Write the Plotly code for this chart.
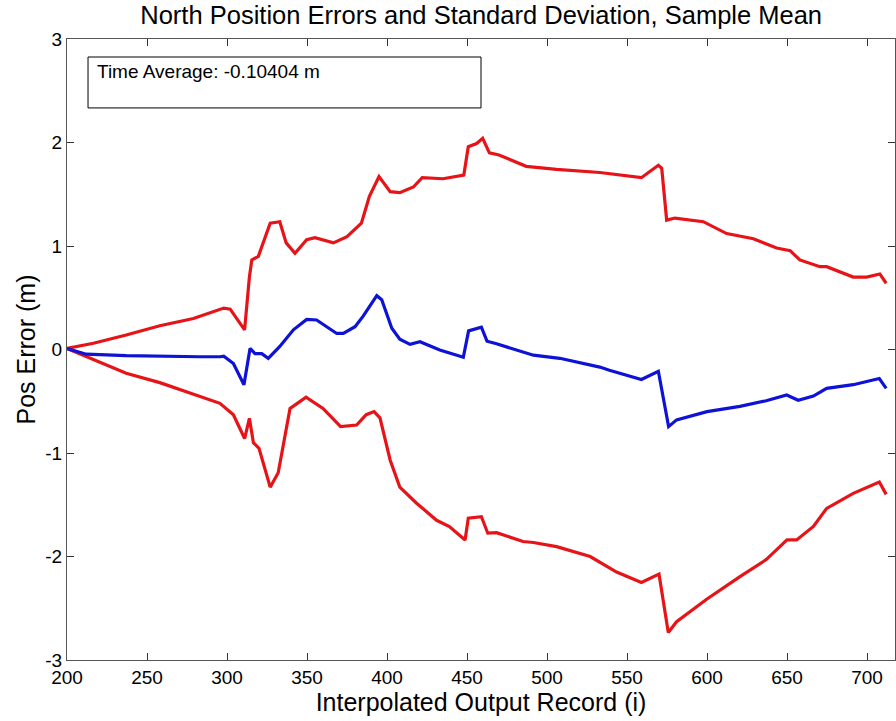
import plotly.graph_objects as go

# Upper bound (mean + std), red
x_upper = [200, 216.5, 237, 258, 279, 298, 302, 311, 314, 315.5, 319.6, 327, 333, 337, 342.5, 349.8,
           355, 366.5, 375, 384, 389, 395, 402, 408, 416.5, 422, 435, 448, 450.8, 456, 459.8, 464,
           470, 487, 506, 533, 559, 569.6, 571.7, 574.8, 580, 597.7, 612.3, 629, 643.5, 652, 658,
           670.6, 674.8, 691.4, 699.8, 708, 712]
y_upper = [0.01, 0.06, 0.14, 0.23, 0.30, 0.40, 0.39, 0.19, 0.70, 0.865, 0.90, 1.22, 1.235, 1.03, 0.93, 1.06,
           1.08, 1.03, 1.09, 1.22, 1.48, 1.67, 1.525, 1.515, 1.57, 1.66, 1.65, 1.685, 1.96, 1.99, 2.04, 1.90,
           1.88, 1.77, 1.74, 1.71, 1.66, 1.78, 1.75, 1.25, 1.27, 1.235, 1.12, 1.07, 0.98, 0.955, 0.865,
           0.80, 0.80, 0.70, 0.70, 0.73, 0.64]

# Sample mean, blue
x_mean = [200, 212, 237, 268.5, 283, 295.6, 298, 304, 310.6, 314.4, 317.5, 321.7, 325.8, 333, 341.5, 349.8,
          356, 368.6, 372.7, 380, 385, 393.6, 396.7, 403, 408, 414.4, 420.6, 433, 447.7, 451, 459, 462.5,
          468.5, 491.5, 508, 533, 539, 559, 569.6, 576, 581, 600, 620.6, 637, 649.8, 657, 666.5, 674.8,
          691.4, 707.7, 712]
y_mean = [0.01, -0.045, -0.06, -0.07, -0.07, -0.07, -0.065, -0.135, -0.34, 0.01, -0.04, -0.04, -0.085, 0.03, 0.19, 0.29,
          0.285, 0.155, 0.155, 0.22, 0.32, 0.52, 0.48, 0.205, 0.10, 0.05, 0.075, -0.005, -0.075, 0.18, 0.215, 0.08,
          0.055, -0.055, -0.085, -0.17, -0.2, -0.29, -0.21, -0.745, -0.68, -0.60, -0.55, -0.495, -0.44, -0.49, -0.45, -0.375,
          -0.34, -0.28, -0.375]

# Lower bound (mean - std), red
x_lower = [200, 216.5, 237, 258, 279, 295.6, 304, 311, 314, 316.5, 320, 327, 332, 339.4, 343.5, 349.4,
           360, 371, 381, 387, 391.9, 395.6, 402, 408, 418.5, 431, 439, 448.8, 450.8, 459, 463, 468.5, 485,
           491.5, 506, 527, 543.5, 559, 570, 575.8, 581, 600, 620.6, 637, 650, 656, 666.5, 674.8, 691.4,
           707.7, 712]
y_lower = [0.01, -0.10, -0.23, -0.32, -0.43, -0.52, -0.63, -0.86, -0.665, -0.90, -0.955, -1.33, -1.19, -0.57, -0.525, -0.46,
           -0.57, -0.745, -0.73, -0.63, -0.60, -0.66, -1.07, -1.33, -1.485, -1.65, -1.71, -1.84, -1.63, -1.615, -1.775, -1.77, -1.855,
           -1.865, -1.905, -2.00, -2.15, -2.25, -2.17, -2.735, -2.63, -2.41, -2.195, -2.03, -1.84, -1.84, -1.71, -1.535, -1.39,
           -1.28, -1.40]

x_ticks = [200, 250, 300, 350, 400, 450, 500, 550, 600, 650, 700]
y_ticks = [-3, -2, -1, 0, 1, 2, 3]

RED = "rgb(230,20,24)"
BLUE = "rgb(14,18,214)"
FONT = "Arial, Liberation Sans, sans-serif"

fig = go.Figure()
fig.add_trace(go.Scatter(x=x_upper, y=y_upper, mode="lines", line=dict(color=RED, width=3.2), showlegend=False))
fig.add_trace(go.Scatter(x=x_lower, y=y_lower, mode="lines", line=dict(color=RED, width=3.2), showlegend=False))
fig.add_trace(go.Scatter(x=x_mean, y=y_mean, mode="lines", line=dict(color=BLUE, width=3.2), showlegend=False))

fig.add_shape(type="rect", xref="paper", yref="paper", x0=0.0254, x1=0.5, y0=0.889, y1=0.971,
              line=dict(color="black", width=1), fillcolor="white", layer="below")
fig.add_annotation(xref="paper", yref="paper", x=0.034, y=0.948, xanchor="left", yanchor="middle",
                   text="Time Average: -0.10404 m", showarrow=False,
                   font=dict(family=FONT, size=19, color="black"))

axis_common = dict(showline=True, linecolor="#555", linewidth=1, mirror="ticks", ticks="inside",
                   ticklen=7, tickcolor="#333", showgrid=False, zeroline=False,
                   tickfont=dict(family=FONT, size=19, color="black"))

fig.update_layout(
    width=896, height=721,
    margin=dict(l=67, r=1, t=39, b=61),
    paper_bgcolor="white", plot_bgcolor="white",
    title=dict(text="North Position Errors and Standard Deviation, Sample Mean",
               x=0.537, xanchor="center", y=0.979, yanchor="middle",
               font=dict(family=FONT, size=25.5, color="black")),
    xaxis=dict(range=[200, 717.5], tickvals=x_ticks, ticktext=[str(v) for v in x_ticks],
               title=dict(text="Interpolated Output Record (i)", standoff=5,
                          font=dict(family=FONT, size=25, color="black")),
               **axis_common),
    yaxis=dict(range=[-3, 3], tickvals=y_ticks, ticktext=[str(v) for v in y_ticks],
               title=dict(text="Pos Error (m)", standoff=2,
                          font=dict(family=FONT, size=25, color="black")),
               **axis_common),
)

fig.write_html("out.html")
